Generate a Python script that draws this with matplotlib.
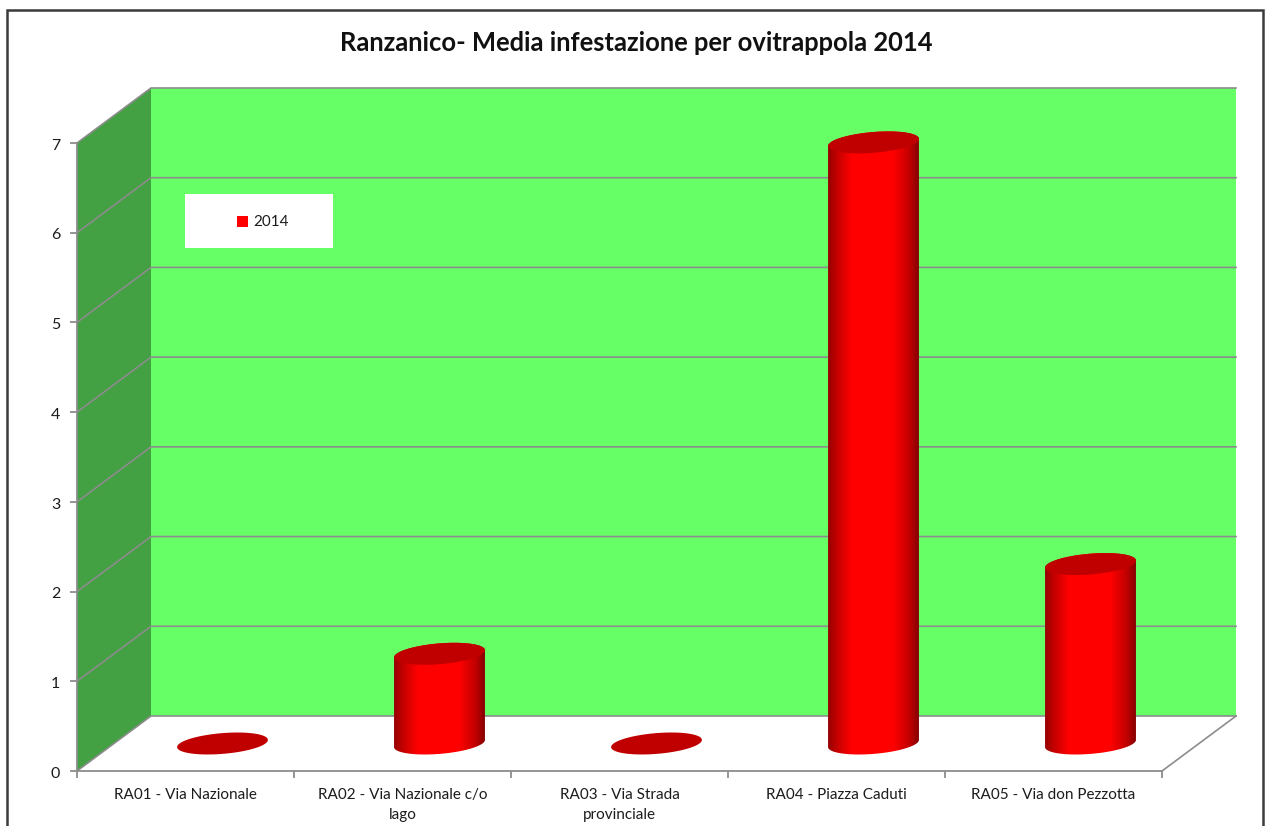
import matplotlib

matplotlib.use("Agg")
import matplotlib.pyplot as plt
import numpy as np
from matplotlib.colors import LinearSegmentedColormap
from matplotlib.patches import Polygon, Rectangle
from matplotlib.transforms import ScaledTranslation

categories = [
    "RA01 - Via Nazionale",
    "RA02 - Via Nazionale c/o\nlago",
    "RA03 - Via Strada\nprovinciale",
    "RA04 - Piazza Caduti",
    "RA05 - Via don Pezzotta",
]
values = [0, 1.0, 0, 6.7, 2.0]
y_ticks = [0, 1, 2, 3, 4, 5, 6, 7]
series_name = "2014"
title = "Ranzanico- Media infestazione per ovitrappola 2014"

W, H = 1266, 826
# depth of the fake 3D box, in data units
DEPTH_X = 74 / 217
DEPTH_Y = 55 / 89.7
R_X = 0.198
R_D = 0.2

GREY = "#8c8c8c"
TEXT = "#1c1c1c"
CAP = "#C00000"
shade = LinearSegmentedColormap.from_list(
    "cyl",
    [(0, "#960000"), (0.1, "#c40000"), (0.26, "#ff0000"), (0.72, "#ff0000"), (0.9, "#c00000"), (1, "#860000")],
)

plt.rcParams["font.family"] = ["Lato", "DejaVu Sans"]


def ellipse(cx, cy, start, stop):
    t = np.linspace(start, stop, 60)
    x = cx + R_X * np.cos(t) + R_D * DEPTH_X * np.sin(t)
    y = cy + R_D * DEPTH_Y * np.sin(t)
    return np.column_stack([x, y])


def main():
    fig = plt.figure(figsize=(W / 100, H / 100), dpi=100, facecolor="white")
    ax = fig.add_axes([77 / W, (H - 771) / H, 1085 / W, 628 / H])
    ax.patch.set_visible(False)
    n = len(categories)
    top = y_ticks[-1]

    # window border, runs off the bottom of the picture
    fig.add_artist(
        Rectangle(
            (7 / W, -0.05),
            1256 / W,
            (H - 10) / H + 0.05,
            transform=fig.transFigure,
            fill=False,
            ec="#3a3a3a",
            lw=1.8,
        )
    )

    # walls and floor
    ax.add_patch(
        Polygon(
            [(DEPTH_X, DEPTH_Y), (n + DEPTH_X, DEPTH_Y), (n + DEPTH_X, top + DEPTH_Y), (DEPTH_X, top + DEPTH_Y)],
            fc="#66FF66",
            ec="none",
            clip_on=False,
            zorder=1,
        )
    )
    ax.add_patch(
        Polygon(
            [(0, 0), (DEPTH_X, DEPTH_Y), (DEPTH_X, top + DEPTH_Y), (0, top)],
            fc="#43A043",
            ec="none",
            clip_on=False,
            zorder=1,
        )
    )
    for v in y_ticks:
        ax.plot(
            [0, DEPTH_X, n + DEPTH_X],
            [v, v + DEPTH_Y, v + DEPTH_Y],
            color=GREY,
            lw=1.2,
            clip_on=False,
            zorder=2,
        )
    ax.plot([n, n + DEPTH_X], [0, DEPTH_Y], color=GREY, lw=1.2, clip_on=False, zorder=2)

    # cylinders
    t0 = np.arctan2(R_D * DEPTH_X, R_X)
    half = np.hypot(R_X, R_D * DEPTH_X)
    for i, v in enumerate(values):
        cx = i + 0.5 + DEPTH_X / 2
        cy = DEPTH_Y / 2
        if v > 0:
            outline = np.vstack(
                [
                    ellipse(cx, cy, t0 + np.pi, t0 + 2 * np.pi),
                    ellipse(cx, cy + v, t0, t0 + np.pi),
                ]
            )
            body = Polygon(outline, fc="none", ec="none", transform=ax.transData)
            ax.add_patch(body)
            im = ax.imshow(
                np.linspace(0, 1, 256).reshape(1, -1),
                cmap=shade,
                extent=[cx - half, cx + half, cy - 0.3, cy + v + 0.3],
                aspect="auto",
                zorder=3,
            )
            im.set_clip_path(body)
            im.set_clip_box(fig.bbox)
        ax.add_patch(
            Polygon(
                ellipse(cx, cy + v, 0, 2 * np.pi),
                fc=CAP,
                ec="none",
                clip_on=False,
                zorder=4,
            )
        )

    ax.set_xlim(0, n)
    ax.set_ylim(0, top)

    for side in ["top", "right"]:
        ax.spines[side].set_visible(False)
    for side in ["left", "bottom"]:
        ax.spines[side].set_color(GREY)
        ax.spines[side].set_linewidth(1.3)
        ax.spines[side].set_zorder(5)

    ax.set_yticks(y_ticks)
    ax.set_xticks(range(n + 1))
    ax.set_xticklabels([])
    ax.set_xticks(np.arange(n) + 0.5, categories, minor=True, ha="center", va="top", linespacing=1.6)
    ax.tick_params(axis="both", which="major", length=5, width=1.3, color=GREY, labelcolor=TEXT)
    ax.tick_params(axis="y", labelsize=11.5, pad=7)
    ax.tick_params(axis="x", which="minor", length=0, labelsize=10.95, labelcolor=TEXT, pad=12)
    nudge = ScaledTranslation(0, -2 / 72, fig.dpi_scale_trans)
    for lab in ax.get_yticklabels():
        lab.set_va("center")
        lab.set_transform(lab.get_transform() + nudge)

    # legend sits on a fixed white box
    box_x, box_y = (185 - 77) / 1085, (771 - 248) / 628
    ax.add_patch(
        Rectangle((box_x, box_y), 148 / 1085, 54 / 628, transform=ax.transAxes, fc="white", ec="none", zorder=6)
    )
    handle = Rectangle((0, 0), 1, 1, fc="#FF0000", ec="none")
    leg = ax.legend(
        [handle],
        [series_name],
        loc="center",
        bbox_to_anchor=(box_x + 78 / 1085, box_y + 25.5 / 628),
        frameon=False,
        handlelength=0.72,
        handleheight=0.72,
        handletextpad=0.35,
        fontsize=11,
        labelcolor=TEXT,
    )
    leg.set_zorder(7)

    fig.text(636 / W, (H - 43) / H, title, ha="center", va="center", fontsize=18.4, fontweight="bold", color="#111111")

    fig.savefig("out.png", dpi=100)


if __name__ == "__main__":
    main()
